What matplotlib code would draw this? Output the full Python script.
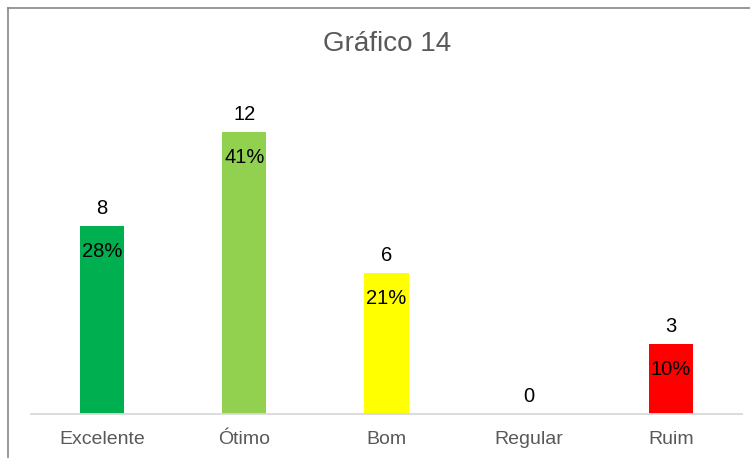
import matplotlib
matplotlib.use('Agg')
import matplotlib.pyplot as plt
from matplotlib.lines import Line2D

# chart data
categories = ['Excelente', 'Ótimo', 'Bom', 'Regular', 'Ruim']
values = [8, 12, 6, 0, 3]
bar_colors = ['#00B050', '#92D050', '#FFFF00', '#A5A5A5', '#FF0000']
title = 'Gráfico 14'

plt.rcParams['font.family'] = ['Liberation Sans', 'DejaVu Sans']

W, H = 750, 458
fig = plt.figure(figsize=(W / 100, H / 100), dpi=100)

# plot area: baseline at y=414px, 12 units ~ 282px
base_px = 414
top_px = 80
ax = fig.add_axes([31 / W, (H - base_px) / H, 711 / W, (base_px - top_px) / H])

x = list(range(len(categories)))
bars = ax.bar(x, values, width=0.31, color=bar_colors, zorder=2)

ax.set_xlim(-0.5, len(categories) - 0.5)
ax.set_ylim(0, (base_px - top_px) / 23.5)

for s in ['top', 'right', 'left']:
    ax.spines[s].set_visible(False)
ax.spines['bottom'].set_color('#D9D9D9')
ax.spines['bottom'].set_linewidth(1.3)
ax.set_yticks([])
ax.set_xticks(x)
ax.set_xticklabels(categories, fontsize=14, color='#595959')
ax.tick_params(axis='x', length=0, pad=12)

total = sum(values)
for xi, v in zip(x, values):
    ax.annotate(str(v), (xi, v), xytext=(0, 12.5), textcoords='offset points',
                ha='center', va='center', fontsize=14.5, color='#000000')
    if v > 0:
        pct = f'{round(100 * v / total)}%'
        ax.annotate(pct, (xi, v), xytext=(0, -18.5), textcoords='offset points',
                    ha='center', va='center', fontsize=14.5, color='#000000')

fig.text(387 / W, 1 - 44 / H, title, ha='center', va='center',
         fontsize=20, color='#595959')

# chart frame (only top and left edges visible in the crop)
fig.add_artist(Line2D([8 / W, 1], [1 - 8 / H, 1 - 8 / H], color='#868686', lw=1.2))
fig.add_artist(Line2D([8 / W, 8 / W], [0, 1 - 8 / H], color='#868686', lw=1.2))

fig.savefig('out.png', dpi=100)
